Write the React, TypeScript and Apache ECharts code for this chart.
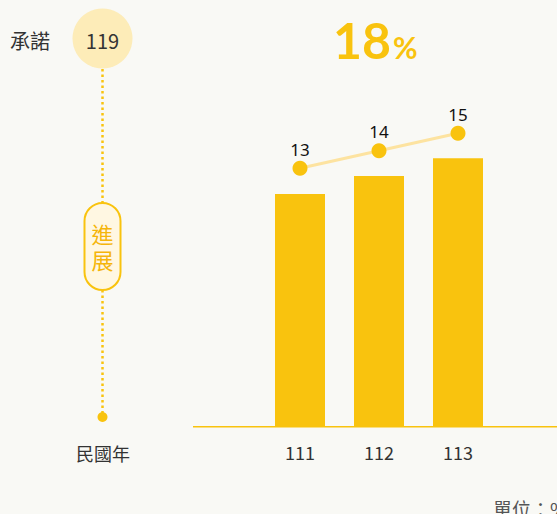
import React, { useEffect, useRef } from "react";
import * as echarts from "echarts";

const years = ["111", "112", "113"];
const barValues = [13, 14, 15];
const lineValues = [13, 14, 15];
const commitYear = "119";
const targetValue = "18";
const targetUnit = "%";
const commitLabel = "承諾";
const progressLabel = "進\n展";
const yearAxisName = "民國年";
const unitLabel = "單位：%";

const YELLOW = "#f9c30e";
const DARK = "#333333";
const FONT = "'Noto Sans CJK TC', 'Noto Sans', sans-serif";

export default function App() {
  const ref = useRef<HTMLDivElement>(null);
  useEffect(() => {
    document.body.style.margin = "0";
    document.body.style.background = "#f9f9f5";
    const chart = echarts.init(ref.current!, null, { renderer: "svg" });
    const lx = 102.5;
    chart.setOption({
      animation: false,
      backgroundColor: "#f9f9f5",
      textStyle: { fontFamily: FONT },
      grid: { left: 260.5, right: 59.5, top: 68.7, bottom: 87.3, containLabel: false },
      xAxis: {
        type: "category",
        data: years,
        axisLine: { show: false },
        axisTick: { show: false },
        axisLabel: { color: DARK, fontSize: 18, margin: 16, fontFamily: FONT },
      },
      yAxis: [
        { type: "value", min: 0, max: 20, show: false },
        { type: "value", min: -1.8, max: 18.7, show: false },
      ],
      series: [
        {
          type: "bar",
          data: barValues,
          barWidth: 50,
          itemStyle: { color: YELLOW },
          yAxisIndex: 0,
        },
        {
          type: "line",
          data: lineValues,
          yAxisIndex: 1,
          symbol: "circle",
          symbolSize: 15,
          lineStyle: { color: "#fde3a0", width: 3 },
          itemStyle: { color: YELLOW },
          label: {
            show: true,
            position: "top",
            distance: 3,
            color: "#111",
            fontSize: 17,
            fontFamily: "'Noto Sans', sans-serif",
          },
        },
      ],
      graphic: [
        {
          type: "line",
          shape: { x1: 193, y1: 426.7, x2: 557, y2: 426.7 },
          style: { stroke: YELLOW, lineWidth: 1.5 },
        },
        {
          type: "line",
          shape: { x1: lx, y1: 69, x2: lx, y2: 203 },
          style: { stroke: YELLOW, lineWidth: 2.5, lineDash: [2.5, 3] },
        },
        {
          type: "line",
          shape: { x1: lx, y1: 290, x2: lx, y2: 413 },
          style: { stroke: YELLOW, lineWidth: 2.5, lineDash: [2.5, 3] },
        },
        {
          type: "circle",
          shape: { cx: lx, cy: 417, r: 5 },
          style: { fill: YELLOW },
        },
        {
          type: "circle",
          shape: { cx: lx, cy: 38.5, r: 30 },
          style: { fill: "#fdecb8" },
        },
        {
          type: "text",
          x: lx,
          y: 40,
          style: { text: commitYear, fontSize: 20, fill: DARK, fontFamily: FONT, align: "center", verticalAlign: "middle" },
        },
        {
          type: "text",
          x: 10,
          y: 40,
          style: { text: commitLabel, fontSize: 20, fill: DARK, fontFamily: FONT, align: "left", verticalAlign: "middle" },
        },
        {
          type: "rect",
          shape: { x: 84.5, y: 203, width: 36, height: 87, r: 18 },
          style: { fill: "#fff7e2", stroke: YELLOW, lineWidth: 2 },
        },
        {
          type: "text",
          x: lx,
          y: 246,
          style: { text: progressLabel, fontSize: 22, lineHeight: 26, fill: "#f5b50a", fontFamily: FONT, align: "center", verticalAlign: "middle" },
        },
        {
          type: "text",
          x: 103,
          y: 453,
          style: { text: yearAxisName, fontSize: 18, fill: DARK, fontFamily: FONT, align: "center", verticalAlign: "middle" },
        },
        {
          type: "text",
          x: 493,
          y: 508,
          style: { text: unitLabel, fontSize: 19, fill: "#555", fontFamily: FONT, align: "left", verticalAlign: "middle" },
        },
        {
          type: "text",
          x: 391,
          y: 40,
          style: { text: targetValue, fontSize: 50, fontWeight: "bold", fill: YELLOW, fontFamily: "Lato, sans-serif", align: "right", verticalAlign: "middle" },
        },
        {
          type: "text",
          x: 393,
          y: 47,
          style: { text: targetUnit, fontSize: 30, fontWeight: "bold", fill: YELLOW, fontFamily: "Lato, sans-serif", align: "left", verticalAlign: "middle" },
        },
      ],
    });
    return () => chart.dispose();
  }, []);
  return <div ref={ref} style={{ position: "fixed", left: 0, top: 0, width: 557, height: 514 }} />;
}
